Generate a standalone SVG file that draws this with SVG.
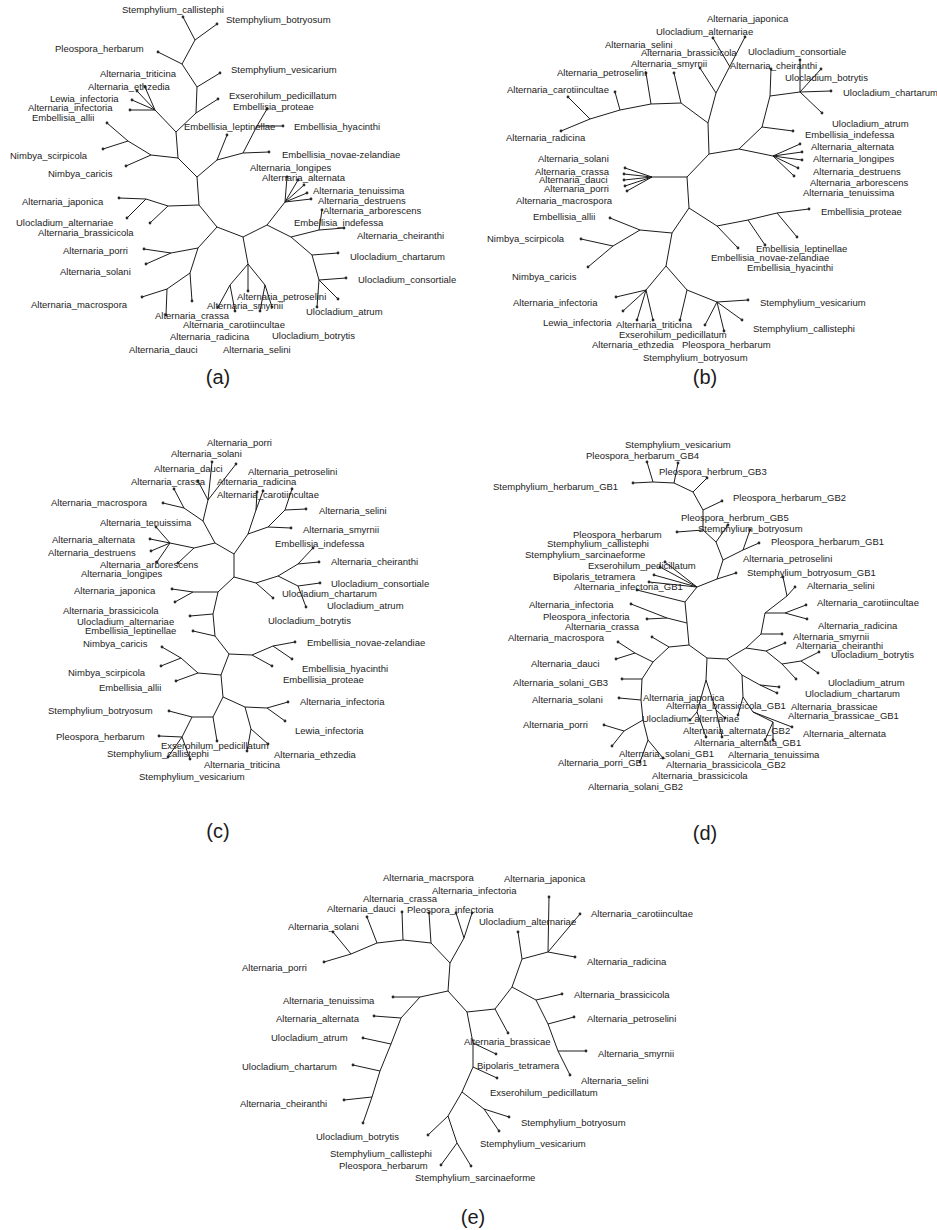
<svg xmlns="http://www.w3.org/2000/svg" width="937" height="1230" viewBox="0 0 937 1230">
<style>
.e{fill:none;stroke:#1c1c1c;stroke-width:1;stroke-linejoin:round}
.t{font-family:"Liberation Sans",Arial,sans-serif;font-size:9.5px;fill:#1c1c1c}
.d{fill:#2a2a2a}
.cap{font-family:"Liberation Sans",Arial,sans-serif;font-size:20px;fill:#1c1c1c;text-anchor:middle}
</style>
<rect width="937" height="1230" fill="#fff"/>

<!-- ===== Panel (a) ===== -->
<g id="panel-a">
<g id="a-edges"><path class="e" d="M183 17L195 40L217 24 M195 40L182 64L158 52 M182 64L197 87L220 73 M197 87L196 113L218 99 M196 113L176 132L155 110L145 87 M155 110L137 91 M155 110L132 100 M155 110L130 110 M176 132L178 158L151 155L128 141L107 123 M128 141L103 149 M151 155L126 166 M178 158L197 177L217 160L227 135 M217 160L243 153L269 152 M243 153L257 126L267 109 M257 126L283 126 M197 177L199 205L168 206L146 199L119 198 M146 199L127 218 M168 206L150 223 M199 205L217 227L243 237 M217 227L198 248L171 253L144 249 M171 253L146 264 M198 248L190 273L167 289L142 297 M167 289L166 315 M190 273L192 301 M243 237L248 264L248 291 M248 264L230 285L218 307 M230 285L235 311 M248 264L265 285L260 311 M265 285L272 307 M243 237L267 225L285 202L287 177 M285 202L298 180 M285 202L304 185 M285 202L307 193 M285 202L311 199 M267 225L291 237L319 230L322 210 M319 230L344 228 M291 237L312 255L338 253 M312 255L319 280L346 278 M319 280L317 307 M319 280L338 299"/></g>
<g id="a1"><circle class="d" cx="183" cy="17" r="1.4"/><text class="t" x="122" y="12.5">Stemphylium_callistephi</text></g>
<g id="a2"><circle class="d" cx="217" cy="24" r="1.4"/><text class="t" x="226" y="23">Stemphylium_botryosum</text></g>
<g id="a3"><circle class="d" cx="158" cy="52" r="1.4"/><text class="t" x="55" y="52">Pleospora_herbarum</text></g>
<g id="a4"><circle class="d" cx="220" cy="73" r="1.4"/><text class="t" x="231" y="73">Stemphylium_vesicarium</text></g>
<g id="a5"><circle class="d" cx="145" cy="87" r="1.4"/><text class="t" x="100" y="77">Alternaria_triticina</text></g>
<g id="a6"><circle class="d" cx="137" cy="91" r="1.4"/><text class="t" x="88" y="90">Alternaria_ethzedia</text></g>
<g id="a7"><circle class="d" cx="132" cy="100" r="1.4"/><text class="t" x="50" y="102">Lewia_infectoria</text></g>
<g id="a8"><circle class="d" cx="130" cy="110" r="1.4"/><text class="t" x="28" y="111">Alternaria_infectoria</text></g>
<g id="a9"><circle class="d" cx="218" cy="99" r="1.4"/><text class="t" x="229" y="99">Exserohilum_pedicillatum</text></g>
<g id="a10"><circle class="d" cx="267" cy="109" r="1.4"/><text class="t" x="233" y="110">Embellisia_proteae</text></g>
<g id="a11"><circle class="d" cx="107" cy="123" r="1.4"/><text class="t" x="32" y="121">Embellisia_allii</text></g>
<g id="a12"><circle class="d" cx="227" cy="135" r="1.4"/><text class="t" x="184" y="130">Embellisia_leptinellae</text></g>
<g id="a13"><circle class="d" cx="283" cy="126" r="1.4"/><text class="t" x="294" y="130">Embellisia_hyacinthi</text></g>
<g id="a14"><circle class="d" cx="269" cy="152" r="1.4"/><text class="t" x="282" y="158">Embellisia_novae-zelandiae</text></g>
<g id="a15"><circle class="d" cx="103" cy="149" r="1.4"/><text class="t" x="10" y="159">Nimbya_scirpicola</text></g>
<g id="a16"><circle class="d" cx="126" cy="166" r="1.4"/><text class="t" x="48" y="177">Nimbya_caricis</text></g>
<g id="a17"><circle class="d" cx="287" cy="177" r="1.4"/><text class="t" x="250" y="171">Alternaria_longipes</text></g>
<g id="a18"><circle class="d" cx="298" cy="180" r="1.4"/><text class="t" x="262" y="181">Alternaria_alternata</text></g>
<g id="a19"><circle class="d" cx="304" cy="185" r="1.4"/><text class="t" x="313" y="194">Alternaria_tenuissima</text></g>
<g id="a20"><circle class="d" cx="307" cy="193" r="1.4"/><text class="t" x="318" y="204">Alternaria_destruens</text></g>
<g id="a21"><circle class="d" cx="311" cy="199" r="1.4"/><text class="t" x="323" y="214">Alternaria_arborescens</text></g>
<g id="a22"><circle class="d" cx="119" cy="198" r="1.4"/><text class="t" x="22" y="205">Alternaria_japonica</text></g>
<g id="a23"><circle class="d" cx="127" cy="218" r="1.4"/><text class="t" x="16" y="226">Ulocladium_alternariae</text></g>
<g id="a24"><circle class="d" cx="150" cy="223" r="1.4"/><text class="t" x="38" y="236">Alternaria_brassicicola</text></g>
<g id="a25"><circle class="d" cx="322" cy="210" r="1.4"/><text class="t" x="294" y="226">Embellisia_indefessa</text></g>
<g id="a26"><circle class="d" cx="344" cy="228" r="1.4"/><text class="t" x="357" y="239">Alternaria_cheiranthi</text></g>
<g id="a27"><circle class="d" cx="144" cy="249" r="1.4"/><text class="t" x="63" y="254">Alternaria_porri</text></g>
<g id="a28"><circle class="d" cx="146" cy="264" r="1.4"/><text class="t" x="60" y="275">Alternaria_solani</text></g>
<g id="a29"><circle class="d" cx="338" cy="253" r="1.4"/><text class="t" x="350" y="260">Ulocladium_chartarum</text></g>
<g id="a30"><circle class="d" cx="346" cy="278" r="1.4"/><text class="t" x="358" y="283">Ulocladium_consortiale</text></g>
<g id="a31"><circle class="d" cx="142" cy="297" r="1.4"/><text class="t" x="31" y="308">Alternaria_macrospora</text></g>
<g id="a32"><circle class="d" cx="248" cy="291" r="1.4"/><text class="t" x="237" y="300">Alternaria_petroselini</text></g>
<g id="a33"><circle class="d" cx="260" cy="311" r="1.4"/><text class="t" x="207" y="309">Alternaria_smyrnii</text></g>
<g id="a34"><circle class="d" cx="317" cy="307" r="1.4"/><text class="t" x="306" y="315">Ulocladium_atrum</text></g>
<g id="a35"><circle class="d" cx="166" cy="315" r="1.4"/><text class="t" x="155" y="319">Alternaria_crassa</text></g>
<g id="a36"><circle class="d" cx="218" cy="307" r="1.4"/><text class="t" x="183" y="328">Alternaria_carotiincultae</text></g>
<g id="a37"><circle class="d" cx="235" cy="311" r="1.4"/><text class="t" x="170" y="340">Alternaria_radicina</text></g>
<g id="a38"><circle class="d" cx="338" cy="299" r="1.4"/><text class="t" x="272" y="339">Ulocladium_botrytis</text></g>
<g id="a39"><circle class="d" cx="192" cy="301" r="1.4"/><text class="t" x="129" y="353">Alternaria_dauci</text></g>
<g id="a40"><circle class="d" cx="272" cy="307" r="1.4"/><text class="t" x="223" y="353">Alternaria_selini</text></g>
<text class="cap" x="218" y="384">(a)</text>
</g>

<!-- ===== Panel (b) ===== -->
<g id="panel-b">
<g id="b-edges"><path class="e" d="M745 37L716 93 M730 67L713 38 M716 93L700 68 M716 93L708 123L681 103L674 73 M681 103L651 104L646 73 M651 104L620 110L615 92 M620 110L590 119L568 97 M590 119L561 131 M708 123L709 154L739 149L762 127L770 96L771 69 M770 96L800 92L800 60 M800 92L821 69 M800 92L831 91 M800 92L822 113 M762 127L793 131 M739 149L773 156L800 144 M773 156L802 152 M773 156L802 160 M773 156L798 168 M773 156L794 176 M709 154L687 177L652 177L625 168 M652 177L624 174 M652 177L624 180 M652 177L625 186 M652 177L627 191 M687 177L689 208L717 226L748 220L777 213L809 209 M777 213L797 237 M748 220L765 245 M717 226L738 248 M689 208L672 233L640 230L610 218 M640 230L613 246L581 239 M613 246L588 267 M672 233L666 266L646 290L616 297 M646 290L623 311 M646 290L637 320 M646 290L653 320 M666 266L687 290L680 320 M687 290L717 302L748 300 M717 302L742 320 M717 302L705 325 M717 302L724 331"/></g>
<g id="b1"><circle class="d" cx="745" cy="37" r="1.4"/><text class="t" x="707" y="22">Alternaria_japonica</text></g>
<g id="b2"><circle class="d" cx="713" cy="38" r="1.4"/><text class="t" x="656" y="35">Ulocladium_alternariae</text></g>
<g id="b3"><circle class="d" cx="646" cy="73" r="1.4"/><text class="t" x="605" y="48">Alternaria_selini</text></g>
<g id="b4"><circle class="d" cx="700" cy="68" r="1.4"/><text class="t" x="641" y="56">Alternaria_brassicicola</text></g>
<g id="b5"><circle class="d" cx="674" cy="73" r="1.4"/><text class="t" x="631" y="67">Alternaria_smyrnii</text></g>
<g id="b6"><circle class="d" cx="615" cy="92" r="1.4"/><text class="t" x="557" y="76">Alternaria_petroselini</text></g>
<g id="b7"><circle class="d" cx="568" cy="97" r="1.4"/><text class="t" x="507" y="93">Alternaria_carotiincultae</text></g>
<g id="b8"><circle class="d" cx="561" cy="131" r="1.4"/><text class="t" x="506" y="141">Alternaria_radicina</text></g>
<g id="b9"><circle class="d" cx="800" cy="60" r="1.4"/><text class="t" x="748" y="55">Ulocladium_consortiale</text></g>
<g id="b10"><circle class="d" cx="771" cy="69" r="1.4"/><text class="t" x="730" y="69">Alternaria_cheiranthi</text></g>
<g id="b11"><circle class="d" cx="821" cy="69" r="1.4"/><text class="t" x="785" y="81">Ulocladium_botrytis</text></g>
<g id="b12"><circle class="d" cx="831" cy="91" r="1.4"/><text class="t" x="843" y="96">Ulocladium_chartarum</text></g>
<g id="b13"><circle class="d" cx="822" cy="113" r="1.4"/><text class="t" x="832" y="127">Ulocladium_atrum</text></g>
<g id="b14"><circle class="d" cx="793" cy="131" r="1.4"/><text class="t" x="805" y="138">Embellisia_indefessa</text></g>
<g id="b15"><circle class="d" cx="800" cy="144" r="1.4"/><text class="t" x="811" y="150">Alternaria_alternata</text></g>
<g id="b16"><circle class="d" cx="802" cy="152" r="1.4"/><text class="t" x="813" y="162">Alternaria_longipes</text></g>
<g id="b17"><circle class="d" cx="802" cy="160" r="1.4"/><text class="t" x="813" y="175">Alternaria_destruens</text></g>
<g id="b18"><circle class="d" cx="798" cy="168" r="1.4"/><text class="t" x="810" y="186">Alternaria_arborescens</text></g>
<g id="b19"><circle class="d" cx="794" cy="176" r="1.4"/><text class="t" x="803" y="196">Alternaria_tenuissima</text></g>
<g id="b20"><circle class="d" cx="625" cy="168" r="1.4"/><text class="t" x="538" y="162">Alternaria_solani</text></g>
<g id="b21"><circle class="d" cx="624" cy="174" r="1.4"/><text class="t" x="535" y="175">Alternaria_crassa</text></g>
<g id="b22"><circle class="d" cx="624" cy="180" r="1.4"/><text class="t" x="539" y="183">Alternaria_dauci</text></g>
<g id="b23"><circle class="d" cx="625" cy="186" r="1.4"/><text class="t" x="544" y="192">Alternaria_porri</text></g>
<g id="b24"><circle class="d" cx="627" cy="191" r="1.4"/><text class="t" x="516" y="204">Alternaria_macrospora</text></g>
<g id="b25"><circle class="d" cx="809" cy="209" r="1.4"/><text class="t" x="821" y="215">Embellisia_proteae</text></g>
<g id="b26"><circle class="d" cx="610" cy="218" r="1.4"/><text class="t" x="533" y="220">Embellisia_allii</text></g>
<g id="b27"><circle class="d" cx="581" cy="239" r="1.4"/><text class="t" x="487" y="242">Nimbya_scirpicola</text></g>
<g id="b28"><circle class="d" cx="765" cy="245" r="1.4"/><text class="t" x="756" y="252">Embellisia_leptinellae</text></g>
<g id="b29"><circle class="d" cx="738" cy="248" r="1.4"/><text class="t" x="711" y="261">Embellisia_novae-zelandiae</text></g>
<g id="b30"><circle class="d" cx="797" cy="237" r="1.4"/><text class="t" x="747" y="271">Embellisia_hyacinthi</text></g>
<g id="b31"><circle class="d" cx="588" cy="267" r="1.4"/><text class="t" x="512" y="280">Nimbya_caricis</text></g>
<g id="b32"><circle class="d" cx="616" cy="297" r="1.4"/><text class="t" x="513" y="306">Alternaria_infectoria</text></g>
<g id="b33"><circle class="d" cx="748" cy="300" r="1.4"/><text class="t" x="760" y="306">Stemphylium_vesicarium</text></g>
<g id="b34"><circle class="d" cx="623" cy="311" r="1.4"/><text class="t" x="543" y="326">Lewia_infectoria</text></g>
<g id="b35"><circle class="d" cx="653" cy="320" r="1.4"/><text class="t" x="616" y="328">Alternaria_triticina</text></g>
<g id="b36"><circle class="d" cx="742" cy="320" r="1.4"/><text class="t" x="753" y="332">Stemphylium_callistephi</text></g>
<g id="b37"><circle class="d" cx="680" cy="320" r="1.4"/><text class="t" x="619" y="338">Exserohilum_pedicillatum</text></g>
<g id="b38"><circle class="d" cx="637" cy="320" r="1.4"/><text class="t" x="592" y="348">Alternaria_ethzedia</text></g>
<g id="b39"><circle class="d" cx="724" cy="331" r="1.4"/><text class="t" x="682" y="348">Pleospora_herbarum</text></g>
<g id="b40"><circle class="d" cx="705" cy="325" r="1.4"/><text class="t" x="643" y="361">Stemphylium_botryosum</text></g>
<text class="cap" x="705" y="384">(b)</text>
</g>

<!-- ===== Panel (c) ===== -->
<g id="panel-c">
<g id="c-edges"><path class="e" d="M234 554L234 577 M234 554L215 543L203 521L208 500L236 464 M208 500L198 481 M208 500L212 462 M203 521L184 508L163 503 M184 508L174 489 M215 543L194 548L170 543L156 527 M170 543L150 539 M170 543L151 551 M170 543L157 562 M194 548L178 563 M234 554L248 534L268 527L285 510L306 509 M285 510L292 489 M268 527L291 528 M248 534L256 510L257 492 M256 510L263 491 M234 577L256 583L278 576L298 564L313 548 M298 564L319 562 M278 576L298 586L320 583 M298 586L306 607 M256 583L273 598 M234 577L218 592L193 592L172 589 M193 592L175 602 M218 592L213 614L190 616 M213 614L215 636L193 631 M215 636L229 654L252 655L273 646L295 642 M273 646L292 659 M252 655L272 666 M229 654L221 675L198 673L176 681 M198 673L181 658L162 647 M181 658L161 666 M221 675L223 697L245 707L267 708L288 702 M267 708L285 721 M245 707L251 729L247 751 M251 729L268 744 M223 697L213 717L192 717L169 711 M213 717L217 741 M192 717L182 737L159 736 M182 737L168 757 M182 737L190 759"/></g>
<g id="c1"><circle class="d" cx="236" cy="464" r="1.4"/><text class="t" x="207" y="446">Alternaria_porri</text></g>
<g id="c2"><circle class="d" cx="212" cy="462" r="1.4"/><text class="t" x="171" y="457">Alternaria_solani</text></g>
<g id="c3"><circle class="d" cx="198" cy="481" r="1.4"/><text class="t" x="154" y="472">Alternaria_dauci</text></g>
<g id="c4"><circle class="d" cx="174" cy="489" r="1.4"/><text class="t" x="131" y="485">Alternaria_crassa</text></g>
<g id="c5"><circle class="d" cx="292" cy="489" r="1.4"/><text class="t" x="248" y="475">Alternaria_petroselini</text></g>
<g id="c6"><circle class="d" cx="257" cy="492" r="1.4"/><text class="t" x="217" y="485">Alternaria_radicina</text></g>
<g id="c7"><circle class="d" cx="263" cy="491" r="1.4"/><text class="t" x="217" y="498">Alternaria_carotiincultae</text></g>
<g id="c8"><circle class="d" cx="163" cy="503" r="1.4"/><text class="t" x="51" y="506">Alternaria_macrospora</text></g>
<g id="c9"><circle class="d" cx="306" cy="509" r="1.4"/><text class="t" x="319" y="514">Alternaria_selini</text></g>
<g id="c10"><circle class="d" cx="156" cy="527" r="1.4"/><text class="t" x="100" y="526">Alternaria_tenuissima</text></g>
<g id="c11"><circle class="d" cx="291" cy="528" r="1.4"/><text class="t" x="303" y="533">Alternaria_smyrnii</text></g>
<g id="c12"><circle class="d" cx="150" cy="539" r="1.4"/><text class="t" x="52" y="543">Alternaria_alternata</text></g>
<g id="c13"><circle class="d" cx="313" cy="548" r="1.4"/><text class="t" x="275" y="547">Embellisia_indefessa</text></g>
<g id="c14"><circle class="d" cx="151" cy="551" r="1.4"/><text class="t" x="48" y="556">Alternaria_destruens</text></g>
<g id="c15"><circle class="d" cx="157" cy="562" r="1.4"/><text class="t" x="100" y="568">Alternaria_arborescens</text></g>
<g id="c16"><circle class="d" cx="319" cy="562" r="1.4"/><text class="t" x="331" y="565">Alternaria_cheiranthi</text></g>
<g id="c17"><circle class="d" cx="178" cy="563" r="1.4"/><text class="t" x="81" y="577">Alternaria_longipes</text></g>
<g id="c18"><circle class="d" cx="172" cy="589" r="1.4"/><text class="t" x="74" y="594">Alternaria_japonica</text></g>
<g id="c19"><circle class="d" cx="320" cy="583" r="1.4"/><text class="t" x="331" y="587">Ulocladium_consortiale</text></g>
<g id="c20"><circle class="d" cx="273" cy="598" r="1.4"/><text class="t" x="282" y="597">Ulocladium_chartarum</text></g>
<g id="c21"><circle class="d" cx="306" cy="607" r="1.4"/><text class="t" x="327" y="609">Ulocladium_atrum</text></g>
<g id="c22"><circle class="d" cx="175" cy="602" r="1.4"/><text class="t" x="63" y="614">Alternaria_brassicicola</text></g>
<g id="c23"><circle class="d" cx="190" cy="616" r="1.4"/><text class="t" x="77" y="625">Ulocladium_alternariae</text></g>
<g id="c24"><text class="t" x="268" y="624">Ulocladium_botrytis</text></g>
<g id="c25"><circle class="d" cx="193" cy="631" r="1.4"/><text class="t" x="85" y="634">Embellisia_leptinellae</text></g>
<g id="c26"><circle class="d" cx="162" cy="647" r="1.4"/><text class="t" x="83" y="647">Nimbya_caricis</text></g>
<g id="c27"><circle class="d" cx="295" cy="642" r="1.4"/><text class="t" x="307" y="646">Embellisia_novae-zelandiae</text></g>
<g id="c28"><circle class="d" cx="292" cy="659" r="1.4"/><text class="t" x="302" y="672">Embellisia_hyacinthi</text></g>
<g id="c29"><circle class="d" cx="161" cy="666" r="1.4"/><text class="t" x="68" y="676">Nimbya_scirpicola</text></g>
<g id="c30"><circle class="d" cx="272" cy="666" r="1.4"/><text class="t" x="283" y="683">Embellisia_proteae</text></g>
<g id="c31"><circle class="d" cx="176" cy="681" r="1.4"/><text class="t" x="99" y="691">Embellisia_allii</text></g>
<g id="c32"><circle class="d" cx="288" cy="702" r="1.4"/><text class="t" x="300" y="705">Alternaria_infectoria</text></g>
<g id="c33"><circle class="d" cx="169" cy="711" r="1.4"/><text class="t" x="48" y="714">Stemphylium_botryosum</text></g>
<g id="c34"><circle class="d" cx="285" cy="721" r="1.4"/><text class="t" x="295" y="734">Lewia_infectoria</text></g>
<g id="c35"><circle class="d" cx="159" cy="736" r="1.4"/><text class="t" x="56" y="740">Pleospora_herbarum</text></g>
<g id="c36"><circle class="d" cx="217" cy="741" r="1.4"/><text class="t" x="161" y="749">Exserohilum_pedicillatum</text></g>
<g id="c37"><circle class="d" cx="168" cy="757" r="1.4"/><text class="t" x="107" y="757">Stemphylium_callistephi</text></g>
<g id="c38"><circle class="d" cx="268" cy="744" r="1.4"/><text class="t" x="274" y="758">Alternaria_ethzedia</text></g>
<g id="c39"><circle class="d" cx="247" cy="751" r="1.4"/><text class="t" x="204" y="768">Alternaria_triticina</text></g>
<g id="c40"><circle class="d" cx="190" cy="759" r="1.4"/><text class="t" x="139" y="780">Stemphylium_vesicarium</text></g>
<text class="cap" x="218" y="838">(c)</text>
</g>

<!-- ===== Panel (d) ===== -->
<g id="panel-d">
<g id="d-edges"><path class="e" d="M633 483L653 482L647 462 M653 482L674 483L678 463 M674 483L693 492L707 478 M693 492L703 510L722 501 M703 510L703 530L677 532 M703 530L716 542L728 525 M716 542L723 560L743 550L759 543 M743 550L750 530 M723 560L717 579L736 573 M717 579L697 587L665 562 M697 587L660 567 M697 587L654 575 M697 587L649 582 M697 587L685 602L637 590 M685 602L687 623L667 618L631 604 M667 618L647 619 M687 623L689 645L707 658 M689 645L669 647L652 637 M669 647L653 662L635 653L618 642 M635 653L616 659 M653 662L642 679L622 679 M642 679L641 700L619 698 M641 700L643 720L624 731L604 725 M624 731L612 746 M643 720L648 740L640 762 M648 740L663 758 M707 658L727 659L746 648L761 634L765 613L785 613L806 605 M785 613L807 619 M765 613L787 596L795 587 M787 596L783 577 M761 634L782 634 M746 648L766 651L785 643 M766 651L782 664L801 661L819 652 M801 661L818 673 M782 664L796 679 M727 659L742 675L760 685L779 687 M760 685L777 693 M742 675L743 697L753 712L792 727 M753 712L773 722L773 740 M773 722L765 740 M743 697L738 715 M707 658L706 680L697 712L690 720 M697 712L706 737 M706 680L716 710L722 737 M716 710L725 718"/></g>
<g id="d1"><circle class="d" cx="678" cy="463" r="1.4"/><text class="t" x="625" y="448">Stemphylium_vesicarium</text></g>
<g id="d2"><circle class="d" cx="647" cy="462" r="1.4"/><text class="t" x="586" y="459">Pleospora_herbarum_GB4</text></g>
<g id="d3"><circle class="d" cx="707" cy="478" r="1.4"/><text class="t" x="659" y="475">Pleospora_herbrum_GB3</text></g>
<g id="d4"><circle class="d" cx="633" cy="483" r="1.4"/><text class="t" x="493" y="490">Stemphylium_herbarum_GB1</text></g>
<g id="d5"><circle class="d" cx="722" cy="501" r="1.4"/><text class="t" x="733" y="501">Pleospora_herbarum_GB2</text></g>
<g id="d6"><circle class="d" cx="728" cy="525" r="1.4"/><text class="t" x="681" y="521">Pleospora_herbrum_GB5</text></g>
<g id="d7"><circle class="d" cx="750" cy="530" r="1.4"/><text class="t" x="698" y="532">Stemphylium_botryosum</text></g>
<g id="d8"><circle class="d" cx="677" cy="532" r="1.4"/><text class="t" x="573" y="538">Pleospora_herbarum</text></g>
<g id="d9"><circle class="d" cx="759" cy="543" r="1.4"/><text class="t" x="771" y="545">Pleospora_herbarum_GB1</text></g>
<g id="d10"><circle class="d" cx="665" cy="562" r="1.4"/><text class="t" x="547" y="547">Stemphylium_callistephi</text></g>
<g id="d11"><circle class="d" cx="660" cy="567" r="1.4"/><text class="t" x="525" y="558">Stemphylium_sarcinaeforme</text></g>
<g id="d12"><circle class="d" cx="783" cy="577" r="1.4"/><text class="t" x="743" y="562">Alternaria_petroselini</text></g>
<g id="d13"><circle class="d" cx="654" cy="575" r="1.4"/><text class="t" x="588" y="569">Exserohilum_pedicillatum</text></g>
<g id="d14"><circle class="d" cx="649" cy="582" r="1.4"/><text class="t" x="553" y="580">Bipolaris_tetramera</text></g>
<g id="d15"><circle class="d" cx="736" cy="573" r="1.4"/><text class="t" x="747" y="576">Stemphylium_botryosum_GB1</text></g>
<g id="d16"><circle class="d" cx="637" cy="590" r="1.4"/><text class="t" x="574" y="590">Alternaria_infectoria_GB1</text></g>
<g id="d17"><circle class="d" cx="795" cy="587" r="1.4"/><text class="t" x="807" y="589">Alternaria_selini</text></g>
<g id="d18"><circle class="d" cx="631" cy="604" r="1.4"/><text class="t" x="529" y="608">Alternaria_infectoria</text></g>
<g id="d19"><circle class="d" cx="806" cy="605" r="1.4"/><text class="t" x="817" y="606">Alternaria_carotiincultae</text></g>
<g id="d20"><circle class="d" cx="647" cy="619" r="1.4"/><text class="t" x="543" y="620">Pleospora_infectoria</text></g>
<g id="d21"><circle class="d" cx="652" cy="637" r="1.4"/><text class="t" x="565" y="630">Alternaria_crassa</text></g>
<g id="d22"><circle class="d" cx="807" cy="619" r="1.4"/><text class="t" x="818" y="629">Alternaria_radicina</text></g>
<g id="d23"><circle class="d" cx="618" cy="642" r="1.4"/><text class="t" x="508" y="641">Alternaria_macrospora</text></g>
<g id="d24"><circle class="d" cx="782" cy="634" r="1.4"/><text class="t" x="793" y="640">Alternaria_smyrnii</text></g>
<g id="d25"><circle class="d" cx="785" cy="643" r="1.4"/><text class="t" x="796" y="649">Alternaria_cheiranthi</text></g>
<g id="d26"><circle class="d" cx="819" cy="652" r="1.4"/><text class="t" x="831" y="658">Ulocladium_botrytis</text></g>
<g id="d27"><circle class="d" cx="616" cy="659" r="1.4"/><text class="t" x="531" y="667">Alternaria_dauci</text></g>
<g id="d28"><circle class="d" cx="622" cy="679" r="1.4"/><text class="t" x="513" y="686">Alternaria_solani_GB3</text></g>
<g id="d29"><circle class="d" cx="818" cy="673" r="1.4"/><text class="t" x="828" y="686">Ulocladium_atrum</text></g>
<g id="d30"><circle class="d" cx="796" cy="679" r="1.4"/><text class="t" x="805" y="697">Ulocladium_chartarum</text></g>
<g id="d31"><circle class="d" cx="690" cy="720" r="1.4"/><text class="t" x="643" y="701">Alternaria_japonica</text></g>
<g id="d32"><circle class="d" cx="619" cy="698" r="1.4"/><text class="t" x="532" y="703">Alternaria_solani</text></g>
<g id="d33"><circle class="d" cx="725" cy="718" r="1.4"/><text class="t" x="666" y="709">Alternaria_brassicicola_GB1</text></g>
<g id="d34"><circle class="d" cx="779" cy="687" r="1.4"/><text class="t" x="791" y="710">Alternaria_brassicae</text></g>
<g id="d35"><circle class="d" cx="777" cy="693" r="1.4"/><text class="t" x="788" y="719">Alternaria_brassicae_GB1</text></g>
<g id="d36"><circle class="d" cx="738" cy="715" r="1.4"/><text class="t" x="642" y="722">Ulocladium_alternariae</text></g>
<g id="d37"><circle class="d" cx="604" cy="725" r="1.4"/><text class="t" x="523" y="728">Alternaria_porri</text></g>
<g id="d38"><circle class="d" cx="706" cy="737" r="1.4"/><text class="t" x="683" y="734">Alternaria_alternata_GB2</text></g>
<g id="d39"><circle class="d" cx="792" cy="727" r="1.4"/><text class="t" x="803" y="737">Alternaria_alternata</text></g>
<g id="d40"><circle class="d" cx="722" cy="737" r="1.4"/><text class="t" x="694" y="746">Alternaria_alternata_GB1</text></g>
<g id="d41"><circle class="d" cx="663" cy="758" r="1.4"/><text class="t" x="619" y="757">Alternaria_solani_GB1</text></g>
<g id="d42"><circle class="d" cx="773" cy="740" r="1.4"/><text class="t" x="728" y="758">Alternaria_tenuissima</text></g>
<g id="d43"><circle class="d" cx="640" cy="762" r="1.4"/><text class="t" x="558" y="766">Alternaria_porri_GB1</text></g>
<g id="d44"><circle class="d" cx="765" cy="740" r="1.4"/><text class="t" x="666" y="768">Alternaria_brassicicola_GB2</text></g>
<g id="d45"><circle class="d" cx="612" cy="746" r="1.4"/><text class="t" x="652" y="779">Alternaria_brassicicola</text></g>
<g id="d46"><text class="t" x="588" y="790">Alternaria_solani_GB2</text></g>
<text class="cap" x="705" y="840">(d)</text>
</g>

<!-- ===== Panel (e) ===== -->
<g id="panel-e">
<g id="e-edges"><path class="e" d="M324 962L351 954L333 932 M351 954L377 943L367 917 M377 943L403 940L402 912 M403 940L431 943L429 913 M431 943L450 963L464 938L456 913 M464 938L472 913 M450 963L448 991L420 997L393 997 M420 997L401 1018L374 1016 M401 1018L391 1044L363 1038 M391 1044L380 1071L353 1065 M380 1071L372 1097L344 1100 M372 1097L363 1123 M448 991L467 1012L495 1009L508 1033 M495 1009L512 987L522 959L518 932 M522 959L548 952L549 897 M548 952L580 914 M548 952L575 957 M512 987L536 1000L562 994 M536 1000L548 1024L574 1017 M548 1024L558 1051L586 1051 M558 1051L570 1075 M467 1012L473 1043L496 1054 M473 1043L473 1067L497 1078 M473 1067L462 1092L484 1109L509 1117 M484 1109L499 1131 M462 1092L448 1116L428 1135 M448 1116L457 1143L441 1165 M457 1143L471 1166"/></g>
<g id="e1"><circle class="d" cx="429" cy="913" r="1.4"/><text class="t" x="383" y="881">Alternaria_macrspora</text></g>
<g id="e2"><circle class="d" cx="549" cy="897" r="1.4"/><text class="t" x="504" y="882">Alternaria_japonica</text></g>
<g id="e3"><circle class="d" cx="472" cy="913" r="1.4"/><text class="t" x="432" y="894">Alternaria_infectoria</text></g>
<g id="e4"><circle class="d" cx="402" cy="912" r="1.4"/><text class="t" x="363" y="902">Alternaria_crassa</text></g>
<g id="e5"><circle class="d" cx="367" cy="917" r="1.4"/><text class="t" x="327" y="912">Alternaria_dauci</text></g>
<g id="e6"><circle class="d" cx="456" cy="913" r="1.4"/><text class="t" x="407" y="913">Pleospora_infectoria</text></g>
<g id="e7"><circle class="d" cx="580" cy="914" r="1.4"/><text class="t" x="591" y="917">Alternaria_carotiincultae</text></g>
<g id="e8"><circle class="d" cx="333" cy="932" r="1.4"/><text class="t" x="288" y="930">Alternaria_solani</text></g>
<g id="e9"><circle class="d" cx="518" cy="932" r="1.4"/><text class="t" x="479" y="925">Ulocladium_alternariae</text></g>
<g id="e10"><circle class="d" cx="324" cy="962" r="1.4"/><text class="t" x="242" y="971">Alternaria_porri</text></g>
<g id="e11"><circle class="d" cx="575" cy="957" r="1.4"/><text class="t" x="587" y="965">Alternaria_radicina</text></g>
<g id="e12"><circle class="d" cx="393" cy="997" r="1.4"/><text class="t" x="283" y="1004">Alternaria_tenuissima</text></g>
<g id="e13"><circle class="d" cx="562" cy="994" r="1.4"/><text class="t" x="574" y="998">Alternaria_brassicicola</text></g>
<g id="e14"><circle class="d" cx="374" cy="1016" r="1.4"/><text class="t" x="276" y="1022">Alternaria_alternata</text></g>
<g id="e15"><circle class="d" cx="574" cy="1017" r="1.4"/><text class="t" x="587" y="1022">Alternaria_petroselini</text></g>
<g id="e16"><circle class="d" cx="363" cy="1038" r="1.4"/><text class="t" x="271" y="1041">Ulocladium_atrum</text></g>
<g id="e17"><circle class="d" cx="508" cy="1033" r="1.4"/><text class="t" x="464" y="1045">Alternaria_brassicae</text></g>
<g id="e18"><circle class="d" cx="586" cy="1051" r="1.4"/><text class="t" x="598" y="1057">Alternaria_smyrnii</text></g>
<g id="e19"><circle class="d" cx="353" cy="1065" r="1.4"/><text class="t" x="242" y="1070">Ulocladium_chartarum</text></g>
<g id="e20"><circle class="d" cx="496" cy="1054" r="1.4"/><text class="t" x="477" y="1069">Bipolaris_tetramera</text></g>
<g id="e21"><circle class="d" cx="570" cy="1075" r="1.4"/><text class="t" x="581" y="1084">Alternaria_selini</text></g>
<g id="e22"><circle class="d" cx="497" cy="1078" r="1.4"/><text class="t" x="490" y="1096">Exserohilum_pedicillatum</text></g>
<g id="e23"><circle class="d" cx="344" cy="1100" r="1.4"/><text class="t" x="240" y="1107">Alternaria_cheiranthi</text></g>
<g id="e24"><circle class="d" cx="509" cy="1117" r="1.4"/><text class="t" x="521" y="1126">Stemphylium_botryosum</text></g>
<g id="e25"><circle class="d" cx="363" cy="1123" r="1.4"/><text class="t" x="316" y="1140">Ulocladium_botrytis</text></g>
<g id="e26"><circle class="d" cx="499" cy="1131" r="1.4"/><text class="t" x="480" y="1147">Stemphylium_vesicarium</text></g>
<g id="e27"><circle class="d" cx="428" cy="1135" r="1.4"/><text class="t" x="330" y="1157">Stemphylium_callistephi</text></g>
<g id="e28"><circle class="d" cx="441" cy="1165" r="1.4"/><text class="t" x="339" y="1169">Pleospora_herbarum</text></g>
<g id="e29"><circle class="d" cx="471" cy="1166" r="1.4"/><text class="t" x="415" y="1181">Stemphylium_sarcinaeforme</text></g>
<text class="cap" x="473" y="1224">(e)</text>
</g>
</svg>
